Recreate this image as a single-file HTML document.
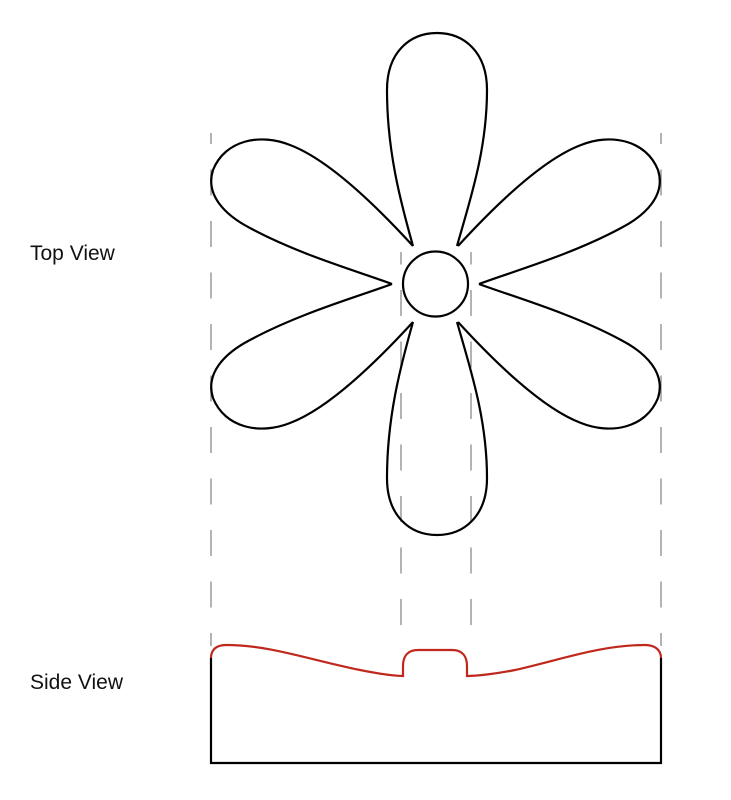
<!DOCTYPE html>
<html><head><style>
html,body{margin:0;padding:0;background:#fff;}
svg{display:block;}
text{font-family:"Liberation Sans",sans-serif;font-size:21px;fill:#111;}
</style></head><body>
<svg width="731" height="800" viewBox="0 0 731 800" xmlns="http://www.w3.org/2000/svg">
<g stroke="#9a9a9a" stroke-width="1.5" stroke-dasharray="26 25.5" fill="none">
<line x1="211" y1="133" x2="211" y2="646" stroke-dashoffset="15"/>
<line x1="661" y1="133" x2="661" y2="646" stroke-dashoffset="15"/>
<line x1="401" y1="252" x2="401" y2="646" stroke-dashoffset="13.5"/>
<line x1="471" y1="252" x2="471" y2="646" stroke-dashoffset="13.5"/>
</g>
<defs>
<path id="pet" d="M413,246 C400,200 387,150 387,90 C387,52 410,33 437,33 C464,33 487,52 487,90 C487,150 470,200 457,246" fill="none" stroke="#000" stroke-width="2.2"/>
<path id="side" d="M413,246 C380,210 330,160 290,145 C260,133 225,140 213,170 C205,195 225,215 250,228 C300,255 360,272 392,284" fill="none" stroke="#000" stroke-width="2.2"/>
</defs>
<use href="#pet"/>
<use href="#pet" transform="matrix(1,0,0,-1,0,568)"/>
<use href="#side"/>
<use href="#side" transform="matrix(-1,0,0,1,871,0)"/>
<use href="#side" transform="matrix(1,0,0,-1,0,568)"/>
<use href="#side" transform="matrix(-1,0,0,-1,871,568)"/>
<circle cx="435.5" cy="284" r="32.5" fill="none" stroke="#000" stroke-width="2.2"/>
<path d="M211,658 V763 H661 V658" fill="none" stroke="#000" stroke-width="2.2"/>
<path d="M211,658 C211,650 216,645 226,645 C270,645 310,660 360,670 C380,674 395,676 403,676 V666 C403,656 408,650 418,650 H452 C462,650 467,656 467,666 V676 C476,676 495,674 515,670 C560,660 600,645 645,645 C655,645 661,650 661,658" fill="none" stroke="#c0281e" stroke-width="2.2"/>
<text x="30" y="260">Top View</text>
<text x="30" y="689">Side View</text>
</svg>
</body></html>
